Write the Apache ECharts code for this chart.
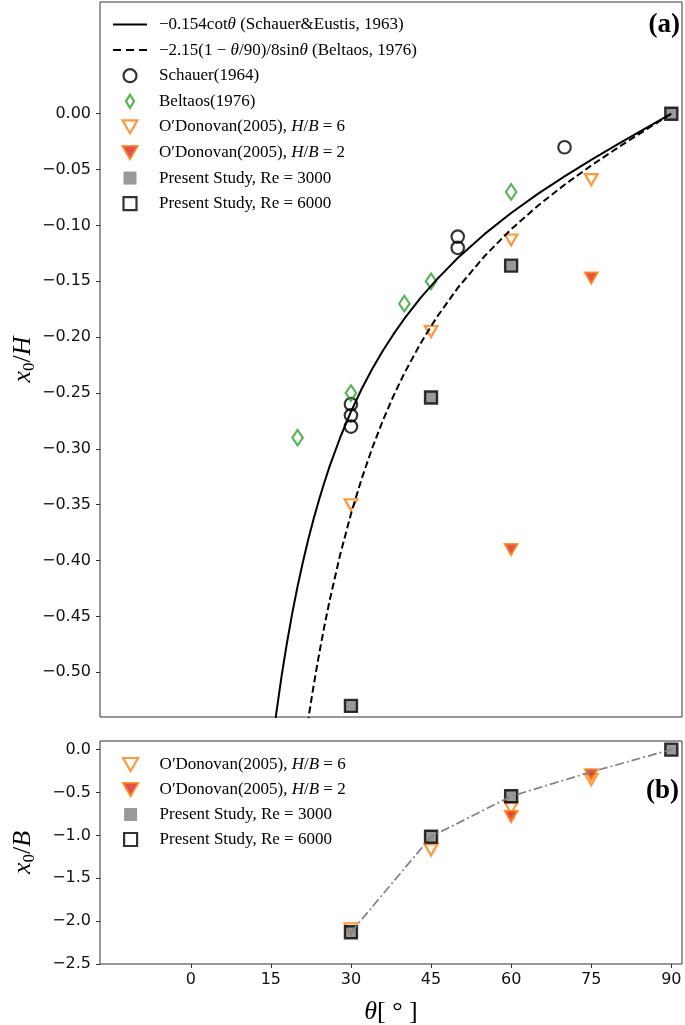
<!DOCTYPE html>
<html><head><meta charset="utf-8">
<script src="https://cdn.jsdelivr.net/npm/echarts@6/dist/echarts.min.js"></script>
<style>html,body{margin:0;padding:0;background:#fff}#c{width:685px;height:1025px}</style>
</head><body><div id="c"></div>
<script>
// ---------- data ----------
const xTicks = [0, 15, 30, 45, 60, 75, 90];
const yTicksTop = [0, -0.05, -0.10, -0.15, -0.20, -0.25, -0.30, -0.35, -0.40, -0.45, -0.50];
const yTicksBottom = [0, -0.5, -1.0, -1.5, -2.0, -2.5];

// curve -0.154 cot(theta)
const thetaSolid = [15, 16, 17, 18, 19, 20, 21, 22, 23, 24, 25, 26, 28, 30, 32, 34, 36, 38, 40, 43, 46, 50, 55, 60, 65, 70, 75, 80, 85, 90];
const x0HSolid = [-0.5747, -0.5371, -0.5037, -0.4740, -0.4472, -0.4231, -0.4012, -0.3812, -0.3628, -0.3459, -0.3303, -0.3157, -0.2896, -0.2667, -0.2464, -0.2283, -0.2120, -0.1971, -0.1835, -0.1651, -0.1487, -0.1292, -0.1078, -0.0889, -0.0718, -0.0561, -0.0413, -0.0272, -0.0135, 0];
// curve -2.15(1-theta/90)/8 sin(theta)
const thetaDashed = [20, 21, 22, 23, 24, 25, 26, 28, 30, 32, 34, 36, 38, 40, 43, 46, 50, 55, 60, 65, 70, 75, 80, 85, 90];
const x0HDashed = [-0.6112, -0.5749, -0.5421, -0.5121, -0.4846, -0.4593, -0.4359, -0.3943, -0.3583, -0.3268, -0.2990, -0.2743, -0.2522, -0.2323, -0.2058, -0.1827, -0.1559, -0.1276, -0.1034, -0.0824, -0.0636, -0.0464, -0.0303, -0.0150, 0];

const schauerTheta = [30, 30, 30, 50, 50, 70];
const schauerX0H = [-0.26, -0.27, -0.28, -0.11, -0.12, -0.03];
const beltaosTheta = [20, 30, 40, 45, 60];
const beltaosX0H = [-0.29, -0.25, -0.17, -0.15, -0.07];
const odon6Theta = [30, 45, 60, 75];
const odon6X0H = [-0.35, -0.195, -0.113, -0.059];
const odon2Theta = [60, 75];
const odon2X0H = [-0.39, -0.147];
const presentTheta = [30, 45, 60, 90];
const present3000X0H = [-0.53, -0.254, -0.136, 0];
const present6000X0H = [-0.53, -0.254, -0.136, 0];

// panel (b)
const odon6X0B = [-2.09, -1.17, -0.68, -0.35];
const odon2X0B = [-0.78, -0.294];
const present3000X0B = [-2.13, -1.016, -0.544, 0];
const present6000X0B = [-2.13, -1.016, -0.544, 0];
const trendTheta = [30, 45, 60, 75, 90];
const trendX0B = [-2.13, -1.016, -0.544, -0.26, 0];

// ---------- names / styles ----------
const N_SE = 'Schauer&Eustis 1963 curve';
const N_BL = 'Beltaos 1976 curve';
const N_S64 = 'Schauer(1964)';
const N_B76 = 'Beltaos(1976)';
const N_O6 = "O'Donovan(2005) H/B=6";
const N_O2 = "O'Donovan(2005) H/B=2";
const N_P3 = 'Present Study Re=3000';
const N_P6 = 'Present Study Re=6000';

const legendText = {};
legendText[N_SE] = '{n|\u22120.154cot}{i|θ}{n| (Schauer&Eustis, 1963)}';
legendText[N_BL] = '{n|\u22122.15(1 \u2212 }{i|θ}{n|/90)/8sin}{i|θ}{n| (Beltaos, 1976)}';
legendText[N_S64] = '{n|Schauer(1964)}';
legendText[N_B76] = '{n|Beltaos(1976)}';
legendText[N_O6] = '{n|O\u2032Donovan(2005), }{i|H}{n|/}{i|B}{n| = 6}';
legendText[N_O2] = '{n|O\u2032Donovan(2005), }{i|H}{n|/}{i|B}{n| = 2}';
legendText[N_P3] = '{n|Present Study, Re = 3000}';
legendText[N_P6] = '{n|Present Study, Re = 6000}';

const ORANGE = '#ff7f0e', RED = '#d62728', GREEN = '#2ca02c', GRAY = '#808080';
const ICON_LINE = 'path://M0,0h34v2h-34z';
const ICON_DASH = 'path://M0,0h8v2h-8zM13,0h8v2h-8zM26,0h8v2h-8z';
const ICON_DIAMOND = 'path://M5,0L10,8L5,16L0,8Z';
const ICON_TRI = 'path://M0,0L12,0L6,10.4Z';
const ICON_SQ = 'path://M0,0H10V10H0Z';

const zip = (xs, ys) => xs.map((x, i) => [x, ys[i]]);
const minus = s => s.replace('-', '\u2212');

const legendRich = {
  n: {fontFamily: 'Liberation Serif', fontSize: 17, lineHeight: 18, color: '#000'},
  i: {fontFamily: 'Liberation Serif', fontSize: 17, fontStyle: 'italic', lineHeight: 18, color: '#000'}
};
const nameRich = {
  i: {fontFamily: 'Liberation Serif', fontStyle: 'italic', fontSize: 26, lineHeight: 30, color: '#000'},
  n: {fontFamily: 'Liberation Serif', fontSize: 26, lineHeight: 30, color: '#000'},
  s: {fontFamily: 'Liberation Serif', fontSize: 17, verticalAlign: 'bottom', color: '#000'}
};
const tickFont = {fontFamily: 'DejaVu Sans', fontSize: 16, color: '#111'};
const mk = {borderWidth: 2.2};

function xAxisCfg(gridIndex, withLabels) {
  return {
    type: 'value', gridIndex, min: -17, max: 92,
    axisLine: {show: false, onZero: false},
    splitLine: {show: false},
    axisTick: withLabels ? {show: true, inside: false, length: 4, customValues: xTicks, lineStyle: {color: '#333', width: 1}} : {show: false},
    axisLabel: withLabels ? Object.assign({show: true, margin: 8, customValues: xTicks}, tickFont) : {show: false},
    name: withLabels ? '{i|θ}{n|[ ° ]}' : '',
    nameLocation: 'middle', nameGap: 33, nameMoveOverlap: false,
    nameTextStyle: {rich: nameRich}
  };
}
function yAxisCfg(gridIndex, min, max, ticks, dec, nameStr) {
  return {
    type: 'value', gridIndex, min, max,
    axisLine: {show: false, onZero: false},
    splitLine: {show: false},
    axisTick: {show: true, length: 4, customValues: ticks, lineStyle: {color: '#333', width: 1}},
    axisLabel: Object.assign({show: true, margin: 9, customValues: ticks,
      formatter: v => minus(Number(v).toFixed(dec))}, tickFont),
    name: nameStr, nameLocation: 'middle', nameGap: 62, nameRotate: 90, nameMoveOverlap: false,
    nameTextStyle: {rich: nameRich}
  };
}

const option = {
  animation: false,
  backgroundColor: '#fff',
  title: [
    {text: '(a)', right: 5, top: 12, padding: 0, textStyle: {fontFamily: 'Liberation Serif', fontSize: 27, fontWeight: 'bold', color: '#000'}},
    {text: '(b)', right: 6, top: 778, padding: 0, textStyle: {fontFamily: 'Liberation Serif', fontSize: 27, fontWeight: 'bold', color: '#000'}}
  ],
  grid: [
    {left: 100, right: 3, top: 2, bottom: 308, outerBoundsMode: 'none', containLabel: false, show: true, borderColor: '#333', borderWidth: 1, backgroundColor: 'rgba(0,0,0,0)'},
    {left: 100, right: 3, top: 741, bottom: 61, outerBoundsMode: 'none', containLabel: false, show: true, borderColor: '#333', borderWidth: 1, backgroundColor: 'rgba(0,0,0,0)'}
  ],
  xAxis: [xAxisCfg(0, false), xAxisCfg(1, true)],
  yAxis: [
    yAxisCfg(0, -0.54, 0.1, yTicksTop, 2, '{i|x}{s|0}{n|/}{i|H}'),
    yAxisCfg(1, -2.5, 0.1, yTicksBottom, 1, '{i|x}{s|0}{n|/}{i|B}')
  ],
  legend: [
    {
      orient: 'vertical', left: 113, top: 16, padding: 0, itemWidth: 34, itemHeight: 13, itemGap: 8.6,
      selectedMode: false,
      data: [
        {name: N_SE, icon: ICON_LINE, itemStyle: {borderWidth: 0}},
        {name: N_BL, icon: ICON_DASH, itemStyle: {borderWidth: 0}},
        {name: N_S64, icon: 'circle', itemStyle: mk},
        {name: N_B76, icon: ICON_DIAMOND, itemStyle: mk},
        {name: N_O6, icon: ICON_TRI, itemStyle: mk},
        {name: N_O2, icon: ICON_TRI, itemStyle: mk},
        {name: N_P3, icon: ICON_SQ, itemStyle: {borderWidth: 0}},
        {name: N_P6, icon: ICON_SQ, itemStyle: mk}
      ],
      formatter: n => legendText[n],
      textStyle: {fontFamily: 'Liberation Serif', fontSize: 17, color: '#000', padding: [0, 0, 0, 7], rich: legendRich}
    },
    {
      orient: 'vertical', left: 122, top: 756, padding: 0, itemWidth: 34, itemHeight: 13, itemGap: 8,
      selectedMode: false,
      data: [
        {name: N_O6, icon: ICON_TRI, itemStyle: mk},
        {name: N_O2, icon: ICON_TRI, itemStyle: mk},
        {name: N_P3, icon: ICON_SQ, itemStyle: {borderWidth: 0}},
        {name: N_P6, icon: ICON_SQ, itemStyle: mk}
      ],
      formatter: n => legendText[n],
      textStyle: {fontFamily: 'Liberation Serif', fontSize: 17, color: '#000', padding: [0, 0, 0, 7], rich: legendRich}
    }
  ],
  series: [
    {type: 'line', name: N_SE, xAxisIndex: 0, yAxisIndex: 0, data: zip(thetaSolid, x0HSolid),
      showSymbol: false, symbol: 'none', silent: true, itemStyle: {color: '#000'}, lineStyle: {color: '#000', width: 2}},
    {type: 'line', name: N_BL, xAxisIndex: 0, yAxisIndex: 0, data: zip(thetaDashed, x0HDashed),
      showSymbol: false, symbol: 'none', silent: true, itemStyle: {color: '#000'}, lineStyle: {color: '#000', width: 2, type: [7, 3.5]}},
    {type: 'scatter', name: N_S64, xAxisIndex: 0, yAxisIndex: 0, data: zip(schauerTheta, schauerX0H),
      symbol: 'circle', symbolSize: 12.5, itemStyle: {color: 'rgba(0,0,0,0)', borderColor: '#000', borderWidth: 2.2}},
    {type: 'scatter', name: N_B76, xAxisIndex: 0, yAxisIndex: 0, data: zip(beltaosTheta, beltaosX0H),
      symbol: ICON_DIAMOND, symbolSize: [10.5, 15.5], itemStyle: {color: 'rgba(0,0,0,0)', borderColor: GREEN, borderWidth: 2.2}},
    {type: 'scatter', name: N_O6, xAxisIndex: 0, yAxisIndex: 0, data: zip(odon6Theta, odon6X0H),
      symbol: ICON_TRI, symbolSize: [12.5, 11], itemStyle: {color: 'rgba(0,0,0,0)', borderColor: ORANGE, borderWidth: 2.2}},
    {type: 'scatter', name: N_O2, xAxisIndex: 0, yAxisIndex: 0, data: zip(odon2Theta, odon2X0H),
      symbol: ICON_TRI, symbolSize: [12.5, 11], itemStyle: {color: RED, borderColor: ORANGE, borderWidth: 2.2}},
    {type: 'scatter', name: N_P3, xAxisIndex: 0, yAxisIndex: 0, data: zip(presentTheta, present3000X0H),
      symbol: 'rect', symbolSize: 12, itemStyle: {color: GRAY, borderWidth: 0}},
    {type: 'scatter', name: N_P6, xAxisIndex: 0, yAxisIndex: 0, data: zip(presentTheta, present6000X0H),
      symbol: 'rect', symbolSize: 12, itemStyle: {color: 'rgba(0,0,0,0)', borderColor: '#000', borderWidth: 2.4}},

    {type: 'line', name: 'trend', xAxisIndex: 1, yAxisIndex: 1, data: zip(trendTheta, trendX0B),
      showSymbol: false, symbol: 'none', silent: true, itemStyle: {color: GRAY}, lineStyle: {color: GRAY, width: 1.7, type: [9, 3, 2, 3]}},
    {type: 'scatter', name: N_O6, xAxisIndex: 1, yAxisIndex: 1, data: zip(odon6Theta, odon6X0B),
      symbol: ICON_TRI, symbolSize: [12.5, 11], itemStyle: {color: 'rgba(0,0,0,0)', borderColor: ORANGE, borderWidth: 2.2}},
    {type: 'scatter', name: N_O2, xAxisIndex: 1, yAxisIndex: 1, data: zip(odon2Theta, odon2X0B),
      symbol: ICON_TRI, symbolSize: [12.5, 11], itemStyle: {color: RED, borderColor: ORANGE, borderWidth: 2.2}},
    {type: 'scatter', name: N_P3, xAxisIndex: 1, yAxisIndex: 1, data: zip(presentTheta, present3000X0B),
      symbol: 'rect', symbolSize: 12, itemStyle: {color: GRAY, borderWidth: 0}},
    {type: 'scatter', name: N_P6, xAxisIndex: 1, yAxisIndex: 1, data: zip(presentTheta, present6000X0B),
      symbol: 'rect', symbolSize: 12, itemStyle: {color: 'rgba(0,0,0,0)', borderColor: '#000', borderWidth: 2.4}}
  ]
};

const chart = echarts.init(document.getElementById('c'), null, {renderer: 'canvas'});
chart.setOption(option);
</script>
</body></html>
